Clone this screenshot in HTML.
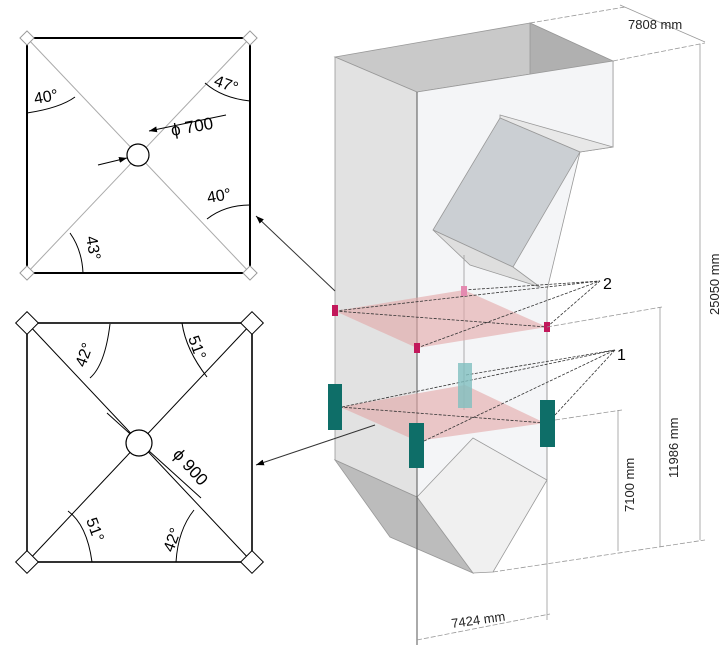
<!DOCTYPE html>
<html><head><style>
html,body{margin:0;padding:0;background:#fff;}
svg{display:block;font-family:"Liberation Sans",sans-serif;}
</style></head><body>
<svg width="727" height="654" viewBox="0 0 727 654" xmlns="http://www.w3.org/2000/svg">
<defs>
<marker id="ar" markerWidth="8" markerHeight="6" refX="8" refY="3" orient="auto"><path d="M0,0 L8,3 L0,6 z" fill="#000"/></marker>
</defs>
<!-- ===== Top-left square ===== -->
<g>
<line x1="27" y1="38" x2="250" y2="273" stroke="#aaa" stroke-width="1"/>
<line x1="250" y1="38" x2="27" y2="273" stroke="#aaa" stroke-width="1"/>
<rect x="27" y="38" width="223" height="235" fill="none" stroke="#000" stroke-width="2"/>
<g fill="#fff" stroke="#999" stroke-width="1">
<rect x="22" y="33" width="10" height="10" transform="rotate(45 27 38)"/>
<rect x="245" y="33" width="10" height="10" transform="rotate(45 250 38)"/>
<rect x="22" y="268" width="10" height="10" transform="rotate(45 27 273)"/>
<rect x="245" y="268" width="10" height="10" transform="rotate(45 250 273)"/>
</g>
<circle cx="138" cy="155" r="11" fill="#fff" stroke="#000" stroke-width="1.2"/>
<line x1="226" y1="115" x2="149" y2="131" stroke="#000" stroke-width="1" marker-end="url(#ar)"/>
<line x1="98" y1="165" x2="127" y2="158" stroke="#000" stroke-width="1" marker-end="url(#ar)"/>
<text x="172" y="136" font-size="17" transform="rotate(-10 172 136)">ϕ 700</text>
<path d="M27,113 Q60,108 75,97" fill="none" stroke="#000" stroke-width="1"/>
<text x="35" y="104" font-size="16" transform="rotate(-10 35 104)">40°</text>
<path d="M205,83 Q222,98 250,101" fill="none" stroke="#000" stroke-width="1"/>
<text x="213" y="85" font-size="16" transform="rotate(20 213 85)">47°</text>
<path d="M207,219 Q225,205 250,205" fill="none" stroke="#000" stroke-width="1"/>
<text x="208" y="203" font-size="16" transform="rotate(-10 208 203)">40°</text>
<path d="M70,233 Q82,250 83,273" fill="none" stroke="#000" stroke-width="1"/>
<text x="86" y="237" font-size="16" transform="rotate(80 86 237)">43°</text>
</g>
<!-- ===== Bottom-left square ===== -->
<g>
<line x1="27" y1="323" x2="252" y2="562" stroke="#000" stroke-width="1"/>
<line x1="252" y1="323" x2="27" y2="562" stroke="#000" stroke-width="1"/>
<line x1="107" y1="413" x2="201" y2="498" stroke="#000" stroke-width="1"/>
<rect x="27" y="323" width="225" height="239" fill="none" stroke="#000" stroke-width="1.6"/>
<g fill="#fff" stroke="#000" stroke-width="1">
<rect x="19" y="315" width="16" height="16" transform="rotate(45 27 323)"/>
<rect x="244" y="315" width="16" height="16" transform="rotate(45 252 323)"/>
<rect x="19" y="554" width="16" height="16" transform="rotate(45 27 562)"/>
<rect x="244" y="554" width="16" height="16" transform="rotate(45 252 562)"/>
</g>
<circle cx="139" cy="443" r="13" fill="#fff" stroke="#000" stroke-width="1.2"/>
<text x="172" y="455" font-size="17" transform="rotate(48 172 455)">ϕ 900</text>
<path d="M90,378 Q105,365 110,324" fill="none" stroke="#000" stroke-width="1"/>
<text x="85" y="368" font-size="16" transform="rotate(-70 85 368)">42°</text>
<path d="M182,323 Q186,350 207,377" fill="none" stroke="#000" stroke-width="1"/>
<text x="188" y="338" font-size="16" transform="rotate(70 188 338)">51°</text>
<path d="M68,511 Q87,525 92,562" fill="none" stroke="#000" stroke-width="1"/>
<text x="86" y="520" font-size="16" transform="rotate(70 86 520)">51°</text>
<path d="M194,510 Q178,530 176,562" fill="none" stroke="#000" stroke-width="1"/>
<text x="173" y="553" font-size="16" transform="rotate(-70 173 553)">42°</text>
</g>
<!-- ===== 3D structure ===== -->
<g stroke="#999" stroke-width="0.8">
<polygon points="335,57 530,23 613,61 417,92" fill="#c9c9c9"/>
<polygon points="530,23 613,61 613,147 530,115" fill="#b0b0b0"/>
<polygon points="335,57 417,92 417,497 335,460" fill="#e2e2e2"/>
<polygon points="417,92 613,61 613,147 580,152 547,290 547,480 473,573 417,497" fill="#f4f5f7"/>
<polygon points="500,115 613,147 580,152 500,118" fill="#e8e8e8"/>
<polygon points="433,230 500,118 580,152 513,267" fill="#cbcfd3"/>
<polygon points="433,230 513,267 540,287 470,265" fill="#dedede"/>
<polygon points="335,460 417,497 473,573 390,537" fill="#bcbcbc"/>
<polygon points="417,497 473,438 547,480 493,572 473,573" fill="#f0f0f0"/>
<line x1="464" y1="255" x2="464" y2="410"/>
</g>
<line x1="417" y1="92" x2="417" y2="645" stroke="#555" stroke-width="1"/>
<line x1="547" y1="290" x2="547" y2="620" stroke="#999" stroke-width="0.8"/>
<polygon points="335,311 464,290 547,327 417,348" fill="#e3a6a6" fill-opacity="0.6"/>
<polygon points="340,407 465,385 545,423 417,441" fill="#e3a6a6" fill-opacity="0.6"/>
<g stroke="#333" stroke-width="0.8" stroke-dasharray="3,1.5" fill="none">
<line x1="335" y1="311" x2="600" y2="281"/>
<line x1="464" y1="290" x2="600" y2="281"/>
<line x1="417" y1="348" x2="600" y2="281"/>
<line x1="547" y1="327" x2="600" y2="281"/>
<line x1="342" y1="407" x2="615" y2="350"/>
<line x1="466" y1="375" x2="615" y2="350"/>
<line x1="424" y1="441" x2="615" y2="350"/>
<line x1="555" y1="415" x2="615" y2="350"/>
<line x1="335" y1="311" x2="547" y2="327"/>
<line x1="340" y1="407" x2="545" y2="423"/>
</g>
<text x="603" y="289" font-size="16">2</text>
<text x="617" y="360" font-size="16">1</text>
<g fill="#c2185b">
<rect x="332" y="305" width="6" height="11"/>
<rect x="414" y="343" width="6" height="10"/>
<rect x="544" y="322" width="6" height="10"/>
</g>
<rect x="461" y="286" width="6" height="10" fill="#e48ab0"/>
<g fill="#0e6e68">
<rect x="328" y="384" width="14" height="46"/>
<rect x="409" y="423" width="15" height="45"/>
<rect x="540" y="400" width="15" height="47"/>
</g>
<rect x="458" y="363" width="14" height="45" fill="#7fbfbf" fill-opacity="0.8"/>
<line x1="335" y1="291" x2="256" y2="216" stroke="#333" stroke-width="1" marker-end="url(#ar)"/>
<line x1="375" y1="425" x2="256" y2="465" stroke="#333" stroke-width="1" marker-end="url(#ar)"/>
<g stroke="#999" stroke-width="0.8" fill="none" stroke-dasharray="5,2">
<line x1="530" y1="23" x2="625" y2="7"/>
<line x1="613" y1="61" x2="705" y2="43"/>
<line x1="547" y1="327" x2="662" y2="307"/>
<line x1="555" y1="420" x2="622" y2="410"/>
<line x1="493" y1="572" x2="705" y2="540"/>
<line x1="417" y1="640" x2="550" y2="614"/>
</g>
<g stroke="#999" stroke-width="0.8">
<line x1="620" y1="5" x2="705" y2="42"/>
<line x1="700" y1="44" x2="700" y2="540"/>
<line x1="660" y1="307" x2="660" y2="547"/>
<line x1="618" y1="410" x2="618" y2="551"/>
</g>
<g font-size="13" fill="#222">
<text x="628" y="29">7808 mm</text>
<text x="719" y="315" transform="rotate(-90 719 315)">25050 mm</text>
<text x="678" y="478" transform="rotate(-90 678 478)">11986 mm</text>
<text x="634" y="512" transform="rotate(-90 634 512)">7100 mm</text>
<text x="452" y="628" transform="rotate(-8 452 628)">7424 mm</text>
</g>
</svg>
</body></html>
